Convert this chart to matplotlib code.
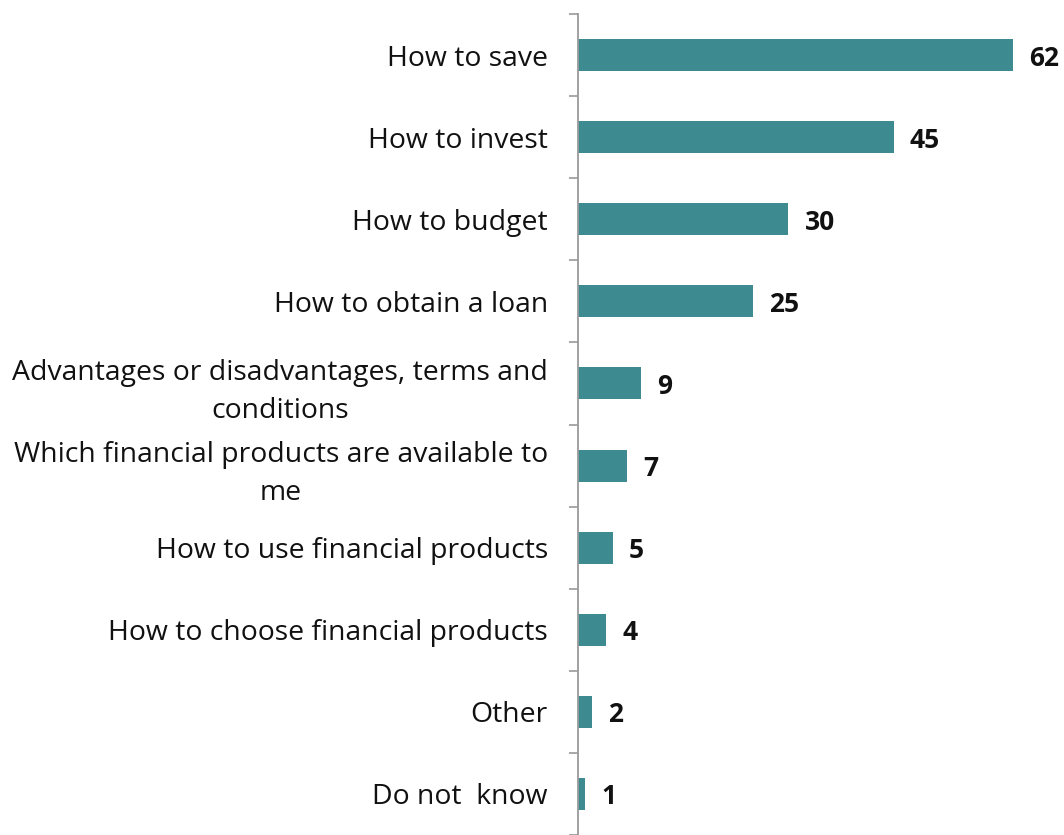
import matplotlib.pyplot as plt
import numpy as np

categories = [
    "How to save",
    "How to invest",
    "How to budget",
    "How to obtain a loan",
    "Advantages or disadvantages, terms and\nconditions",
    "Which financial products are available to\nme",
    "How to use financial products",
    "How to choose financial products",
    "Other",
    "Do not  know",
]
values = [62, 45, 30, 25, 9, 7, 5, 4, 2, 1]

BAR_COLOR = "#3D8B91"
AXIS_COLOR = "#9A9A9A"

plt.rcParams["font.family"] = ["Open Sans", "DejaVu Sans"]

fig = plt.figure(figsize=(10.64, 8.35), dpi=100)
ax = fig.add_axes([578 / 1064, 0, 486 / 1064, 821 / 835])

pos = np.arange(len(categories))
ax.barh(pos, values, height=0.39, color=BAR_COLOR)
ax.set_ylim(len(categories) - 0.5, -0.5)
ax.set_xlim(0, 486 / 7.016)

for y, v in zip(pos, values):
    ax.annotate(str(v), (v, y), xytext=(16, -3), textcoords="offset pixels",
                ha="left", va="center", fontsize=19, fontweight="bold", color="#111111")

ax.set_yticks(pos)
ax.set_yticklabels(categories, fontsize=20.4, multialignment="center",
                   linespacing=1.48, color="#111111")
ax.tick_params(axis="y", which="major", length=0, pad=21.6)
ax.set_yticks(np.arange(-0.5, len(categories), 1.0), minor=True)
ax.tick_params(axis="y", which="minor", length=6.5, width=1.2, color=AXIS_COLOR, direction="out")
ax.set_xticks([])

for side in ["top", "right", "bottom"]:
    ax.spines[side].set_visible(False)
ax.spines["left"].set_color(AXIS_COLOR)
ax.spines["left"].set_linewidth(1.3)

fig.savefig("out.png", dpi=100)
